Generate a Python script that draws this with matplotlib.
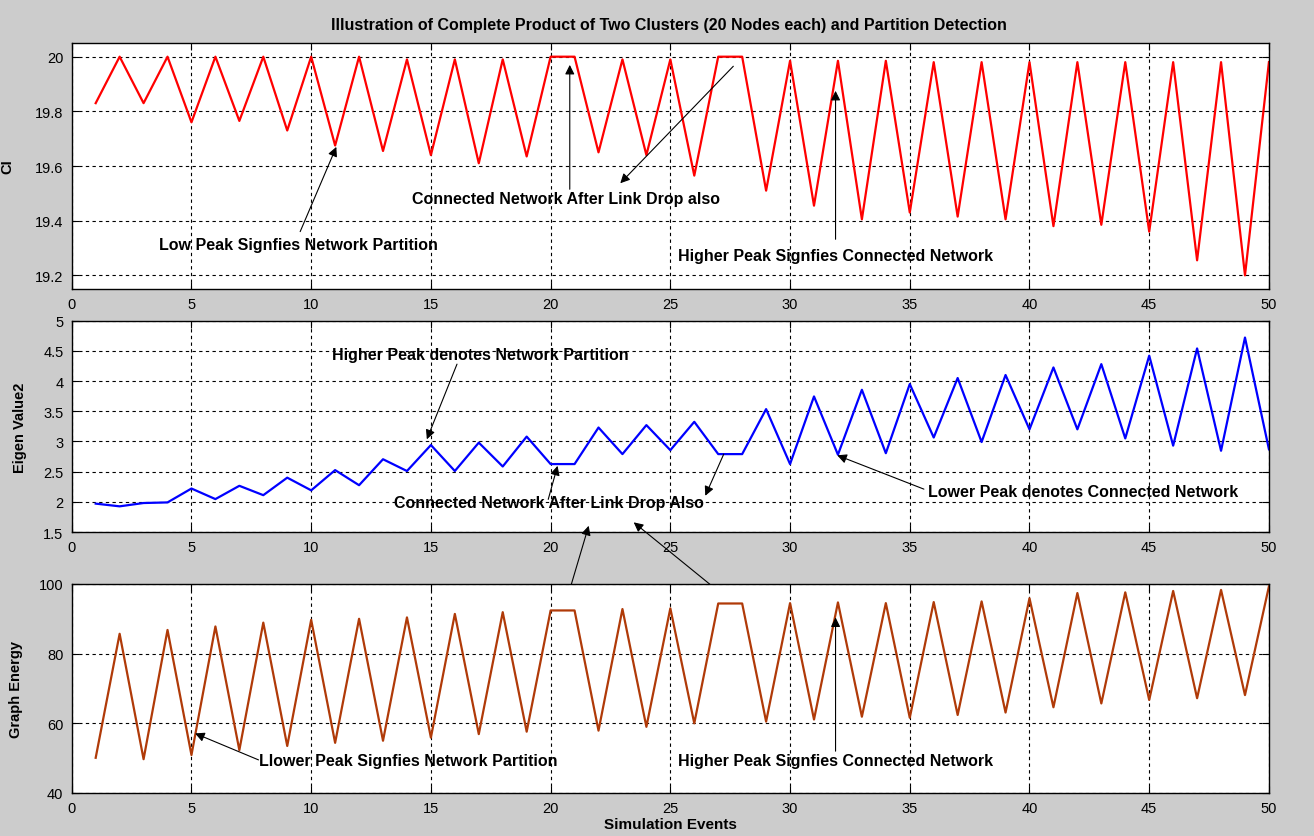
import numpy as np
import matplotlib
matplotlib.use('Agg')
import matplotlib.pyplot as plt

plt.rcParams['font.family'] = ['Liberation Sans', 'DejaVu Sans']

# simulation events 1..50
events = list(range(1, 51))

ci = [19.83, 20.0, 19.83, 20.0, 19.76, 20.0, 19.765, 20.0, 19.73, 20.0,
      19.675, 20.0, 19.655, 19.99, 19.64, 19.99, 19.61, 19.99, 19.635, 20.0,
      20.0, 19.65, 19.99, 19.64, 19.99, 19.565, 20.0, 20.0, 19.51, 19.985,
      19.455, 19.985, 19.405, 19.985, 19.43, 19.98, 19.415, 19.98, 19.405, 19.98,
      19.38, 19.98, 19.385, 19.98, 19.36, 19.98, 19.255, 19.98, 19.2, 19.98]

eig2 = [1.97, 1.925, 1.98, 1.99, 2.22, 2.045, 2.265, 2.11, 2.40, 2.19,
        2.525, 2.275, 2.705, 2.51, 2.94, 2.51, 2.98, 2.585, 3.08, 2.625,
        2.625, 3.23, 2.79, 3.27, 2.855, 3.325, 2.79, 2.79, 3.535, 2.625,
        3.745, 2.78, 3.855, 2.805, 3.95, 3.065, 4.05, 2.99, 4.10, 3.20,
        4.225, 3.20, 4.28, 3.05, 4.42, 2.93, 4.54, 2.845, 4.72, 2.87]

energy = [50.1, 85.7, 49.7, 86.8, 50.9, 87.8, 52.3, 88.9, 53.5, 89.7,
          54.4, 90.0, 55.0, 90.4, 55.9, 91.4, 56.9, 91.9, 57.6, 92.4,
          92.4, 57.9, 92.8, 59.0, 93.0, 60.0, 94.4, 94.4, 60.5, 94.5,
          61.1, 94.7, 61.9, 94.5, 61.6, 94.8, 62.4, 95.0, 63.1, 95.9,
          64.6, 97.4, 65.7, 97.6, 66.7, 98.0, 67.2, 98.3, 68.1, 99.3]

fig = plt.figure(figsize=(13.14, 8.37), dpi=100, facecolor='#cccccc')
left, width = 0.0546, 0.9111
ax1 = fig.add_axes([left, 0.6535, width, 0.2939])
ax2 = fig.add_axes([left, 0.3632, width, 0.2525])
ax3 = fig.add_axes([left, 0.0514, width, 0.2497])

def style(ax, ylim, yticks):
    ax.set_xlim(0, 50)
    ax.set_ylim(*ylim)
    ax.set_xticks(np.arange(0, 51, 5))
    ax.set_yticks(yticks)
    ax.grid(True, color='k', linestyle=(0, (3, 3)), lw=0.8)
    ax.tick_params(direction='in', top=True, right=True, length=5, labelsize=10.5, pad=6)
    for s in ax.spines.values():
        s.set_linewidth(1.0)

ax1.plot(events, ci, color='#ff0000', lw=1.6)
style(ax1, (19.15, 20.05), [19.2, 19.4, 19.6, 19.8, 20])
ax1.set_yticklabels(['19.2', '19.4', '19.6', '19.8', '20'])
ax1.set_ylabel('CI', fontweight='bold', fontsize=10.5)
ax1.yaxis.set_label_coords(-0.048, 0.5)

ax2.plot(events, eig2, color='#0000ff', lw=1.6)
style(ax2, (1.5, 5), [1.5, 2, 2.5, 3, 3.5, 4, 4.5, 5])
ax2.set_yticklabels(['1.5', '2', '2.5', '3', '3.5', '4', '4.5', '5'])
ax2.set_ylabel('Eigen Value2', fontweight='bold', fontsize=10.5)
ax2.yaxis.set_label_coords(-0.037, 0.5)

ax3.plot(events, energy, color='#b03a08', lw=1.6)
style(ax3, (40, 100), [40, 60, 80, 100])
ax3.set_ylabel('Graph Energy', fontweight='bold', fontsize=10.5)
ax3.yaxis.set_label_coords(-0.041, 0.5)
ax3.set_xlabel('Simulation Events', fontweight='bold', fontsize=11, labelpad=1)

fig.text(0.509, 0.970, 'Illustration of Complete Product of Two Clusters (20 Nodes each) and Partition Detection',
         ha='center', va='center', fontweight='bold', fontsize=11.5)

arrow = dict(arrowstyle='-|>', color='k', lw=0.8, mutation_scale=14, shrinkA=0, shrinkB=0)
tfont = dict(ha='center', va='center', fontweight='bold', fontsize=11.5)

def arr(ax, head, tail, tail_ax=None):
    tc = (tail_ax or ax).transData
    ax.annotate('', xy=head, xycoords=ax.transData, xytext=tail, textcoords=tc,
                arrowprops=arrow, annotation_clip=False)

# top panel
ax1.text(9.46, 19.314, 'Low Peak Signfies Network Partition', **tfont)
arr(ax1, (11.05, 19.67), (9.54, 19.36))
ax1.text(20.66, 19.482, 'Connected Network After Link Drop also', **tfont)
arr(ax1, (20.8, 19.97), (20.8, 19.515))
arr(ax1, (22.91, 19.537), (27.63, 19.965))
ax1.text(31.9, 19.273, 'Higher Peak Signfies Connected Network', **tfont)
arr(ax1, (31.9, 19.875), (31.9, 19.332))

# middle panel
ax2.text(17.06, 4.445, 'Higher Peak denotes Network Partition', **tfont)
arr(ax2, (14.83, 3.035), (16.09, 4.28))
ax2.text(19.95, 1.99, 'Connected Network After Link Drop Also', **tfont)
arr(ax2, (20.29, 2.596), (19.9, 2.04))
arr(ax2, (26.46, 2.10), (27.23, 2.79))
arr(ax2, (21.59, 1.603), (20.61, 94.0), tail_ax=ax3)
arr(ax2, (23.47, 1.66), (27.37, 95.9), tail_ax=ax3)
ax2.text(42.24, 2.17, 'Lower Peak denotes Connected Network', **tfont)
arr(ax2, (31.97, 2.77), (35.59, 2.21))

# bottom panel
ax3.text(14.05, 49.2, 'Llower Peak Signfies Network Partition', **tfont)
arr(ax3, (5.15, 57.1), (7.8, 49.5))
ax3.text(31.88, 49.2, 'Higher Peak Signfies Connected Network', **tfont)
arr(ax3, (31.9, 90.4), (31.9, 52.0))

fig.savefig('out.png', dpi=100, facecolor=fig.get_facecolor())
